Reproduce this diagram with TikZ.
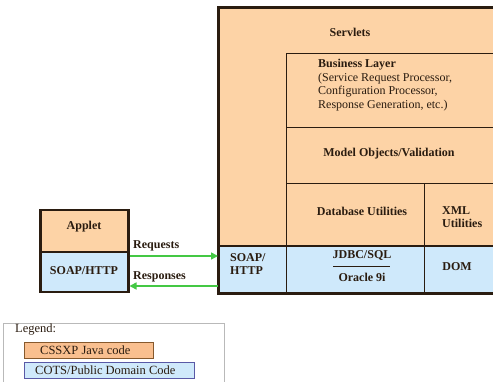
\documentclass[tikz,border=0pt]{standalone}
\usepackage{fontspec}
\setmainfont{Liberation Serif}
\usetikzlibrary{arrows.meta}
\definecolor{peach}{HTML}{FDD3A6}
\definecolor{sky}{HTML}{CFE9FB}
\definecolor{lpeach}{HTML}{F9BF8F}
\definecolor{grn}{HTML}{44C844}
\definecolor{ink}{HTML}{2A1C10}
\tikzset{
  cell/.style={draw=ink, line width=1.4pt, anchor=north west, inner sep=0pt},
  lbl/.style={font=\bfseries\fontsize{12}{13.7}\selectfont, text=ink, inner sep=0pt},
  arr/.style={draw=grn, line width=1.6pt, -{Triangle[length=7pt,width=7pt]}},
  legtxt/.style={font=\fontsize{12.5}{14}\selectfont, text=ink, inner sep=0pt}
}
\begin{document}
\begin{tikzpicture}[x=1pt,y=-1pt]
\clip (0,0) rectangle (493,382);
\fill[white] (0,0) rectangle (493,382);
% main servlets box
\node[cell, fill=peach, minimum width=290pt, minimum height=284pt] (main) at (218,8) {};
\node[cell, fill=peach, minimum width=220pt, minimum height=74pt] (bus) at (286,53) {};
\node[cell, fill=peach, minimum width=220pt, minimum height=56pt] (model) at (286,127) {};
\node[cell, fill=peach, minimum width=138pt, minimum height=63pt] (db) at (286,183) {};
\node[cell, fill=peach, minimum width=82pt, minimum height=63pt] (xml) at (424,183) {};
\node[cell, fill=sky, minimum width=68pt, minimum height=46pt] (msoap) at (218,246) {};
\node[cell, fill=sky, minimum width=138pt, minimum height=46pt] (jdbc) at (286,246) {};
\node[cell, fill=sky, minimum width=82pt, minimum height=46pt] (dom) at (424,246) {};
\draw[ink, line width=2pt] (218,246) -- (500,246);
\draw[ink, line width=3pt] (main.south west) rectangle (main.north east);
% texts
\node[lbl] (tserv) at (350,32) {Servlets};
\node[lbl, anchor=north west, align=left] (tbus) at (318,59) {Business Layer\\\mdseries (Service Request Processor,\\\mdseries Configuration Processor,\\\mdseries Response Generation, etc.)};
\node[lbl] (tmodel) at (389,154) {Model Objects/Validation};
\node[lbl] (tdb) at (362,211) {Database Utilities};
\node[lbl, anchor=west, align=left] (txml) at (442,217) {XML\\Utilities};
\node[lbl, anchor=west, align=left] (tsoap) at (230,264) {SOAP/\\HTTP};
\node[lbl] (tjdbc) at (362,256) {JDBC/SQL};
\node[lbl] (tora) at (362,277) {Oracle 9i};
\draw[ink, line width=0.8pt] (333,266) -- (390,266);
\node[lbl] (tdom) at (457,267) {DOM};
% applet box
\node[cell, fill=peach, minimum width=88pt, minimum height=42pt, line width=2.5pt] (applet) at (39,209) {};
\node[cell, fill=sky, minimum width=88pt, minimum height=40pt, line width=2.5pt] (appsoap) at (39,251) {};
\node[lbl] (tapplet) at (84,227) {Applet};
\node[lbl] (tappsoap) at (84,271) {SOAP/HTTP};
% arrows
\coordinate (reqy) at (0,256);
\coordinate (resy) at (0,286);
\draw[arr] (appsoap.east |- reqy) -- (msoap.west |- reqy);
\draw[arr] (msoap.west |- resy) -- (appsoap.east |- resy);
\node[lbl, anchor=west] (treq) at (133,246) {Requests};
\node[lbl, anchor=west] (tres) at (133,277) {Responses};
% legend
\node[draw=gray!55, line width=0.8pt, anchor=north west, minimum width=221pt, minimum height=80pt, inner sep=0pt] (legend) at (3,323) {};
\node[legtxt, anchor=west] (tleg) at (15,330) {Legend:};
\node[draw=brown!70!black, fill=lpeach, line width=0.6pt, anchor=north west, minimum width=129pt, minimum height=16pt, inner sep=0pt] (lorange) at (24,342) {};
\node[legtxt, anchor=west] (tlo) at (40,350) {CSSXP Java code};
\node[draw=blue!30!gray, fill=sky, line width=0.6pt, anchor=north west, minimum width=170pt, minimum height=16pt, inner sep=0pt] (lblue) at (24,362) {};
\node[legtxt, anchor=west] (tlb) at (35,370) {COTS/Public Domain Code};
\end{tikzpicture}
\end{document}
